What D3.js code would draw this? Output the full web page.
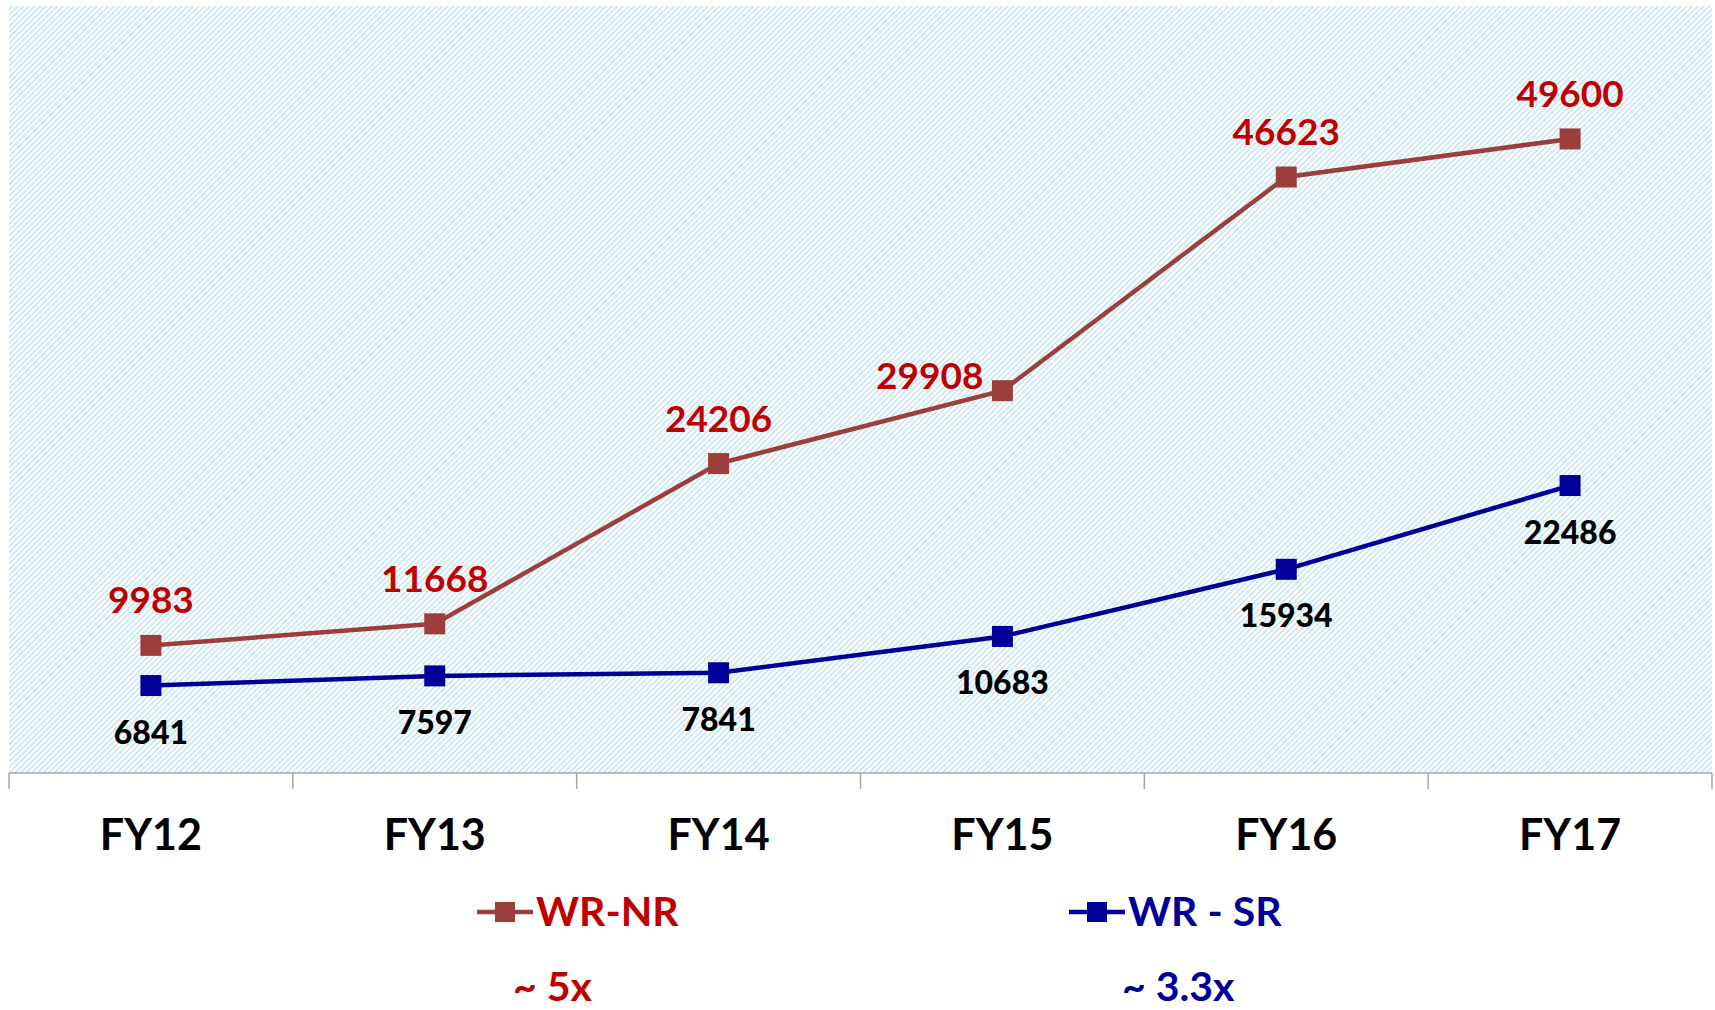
<!DOCTYPE html>
<html>
<head>
<meta charset="utf-8">
<script src="https://cdn.jsdelivr.net/npm/d3@7"></script>
<style>
  body { margin: 0; background: #fff; }
  svg text { font-family: Lato, "Open Sans", sans-serif; font-weight: bold; }
</style>
</head>
<body>
<svg id="chart" width="1715" height="1010"></svg>
<script>
// Chart data
const years = ['FY12', 'FY13', 'FY14', 'FY15', 'FY16', 'FY17'];
const wrNr = [9983, 11668, 24206, 29908, 46623, 49600];
const wrSr = [6841, 7597, 7841, 10683, 15934, 22486];
const seriesNames = ['WR-NR', 'WR - SR'];
const growthLabels = ['~ 5x', '~ 3.3x'];

const svg = d3.select('#chart');

// Plot area in page pixels
const plot = { left: 9, right: 1712, top: 6, bottom: 773 };

const red = '#9c3f3c';
const redText = '#c00000';
const blue = '#000099';

// Hatched background pattern
const defs = svg.append('defs');
const pat = defs.append('pattern')
  .attr('id', 'hatch')
  .attr('patternUnits', 'userSpaceOnUse')
  .attr('width', 4)
  .attr('height', 4)
  .attr('patternTransform', 'rotate(45)');
pat.append('rect').attr('width', 4).attr('height', 4).attr('fill', '#ffffff');
pat.append('rect').attr('width', 2).attr('height', 4).attr('fill', '#d0e9f1');

svg.append('rect')
  .attr('x', plot.left)
  .attr('y', plot.top)
  .attr('width', plot.right - plot.left)
  .attr('height', plot.bottom - plot.top)
  .attr('fill', 'url(#hatch)');

// Scales
const x = d3.scaleBand().domain(years).range([plot.left, plot.right]);
const y = d3.scaleLinear().domain([0, 60000]).range([plot.bottom, plot.top]);
const cx = (d) => x(d) + x.bandwidth() / 2;

// X axis: labels only, ticks drawn at category boundaries
const xAxis = d3.axisBottom(x).tickSize(0).tickPadding(0);
const axisG = svg.append('g')
  .attr('transform', `translate(0,${plot.bottom})`)
  .call(xAxis);
axisG.select('.domain').remove();
axisG.selectAll('.tick text')
  .attr('y', 77)
  .attr('dy', 0)
  .attr('fill', '#000')
  .style('font-size', '43px');

svg.append('line')
  .attr('x1', plot.left).attr('x2', plot.right)
  .attr('y1', plot.bottom).attr('y2', plot.bottom)
  .attr('stroke', '#a6a6a6').attr('stroke-width', 1.5);

const bounds = years.map((d) => x(d)).concat([plot.right]);
svg.selectAll('.boundTick')
  .data(bounds)
  .join('line')
  .attr('class', 'boundTick')
  .attr('x1', (d) => d).attr('x2', (d) => d)
  .attr('y1', plot.bottom).attr('y2', plot.bottom + 16)
  .attr('stroke', '#a6a6a6').attr('stroke-width', 1.5);

// Lines and markers
const series = [
  { name: seriesNames[0], values: wrNr, color: red },
  { name: seriesNames[1], values: wrSr, color: blue },
];

const line = d3.line()
  .x((d, i) => cx(years[i]))
  .y((d) => y(d));

series.forEach((s) => {
  svg.append('path')
    .datum(s.values)
    .attr('fill', 'none')
    .attr('stroke', s.color)
    .attr('stroke-width', 4.5)
    .attr('d', line);

  svg.selectAll(null)
    .data(s.values)
    .join('rect')
    .attr('x', (d, i) => cx(years[i]) - 10.5)
    .attr('y', (d) => y(d) - 10.5)
    .attr('width', 21)
    .attr('height', 21)
    .attr('fill', s.color);
});

// Data labels: WR-NR above (FY15 to the left), WR-SR below
svg.selectAll('.lblNr')
  .data(wrNr)
  .join('text')
  .attr('class', 'lblNr')
  .attr('x', (d, i) => (i === 3 ? cx(years[i]) - 19 : cx(years[i])))
  .attr('y', (d, i) => (i === 3 ? y(d) - 2 : y(d) - 32))
  .attr('text-anchor', (d, i) => (i === 3 ? 'end' : 'middle'))
  .attr('fill', redText)
  .style('font-size', '37px')
  .text((d) => d);

svg.selectAll('.lblSr')
  .data(wrSr)
  .join('text')
  .attr('class', 'lblSr')
  .attr('x', (d, i) => cx(years[i]))
  .attr('y', (d) => y(d) + 58)
  .attr('text-anchor', 'middle')
  .attr('fill', '#000')
  .style('font-size', '32px')
  .style('font-weight', 900)
  .text((d) => d);

// Legend
const legendItems = [
  { name: seriesNames[0], color: red, text: redText, x: 477, growth: growthLabels[0], gx: 513 },
  { name: seriesNames[1], color: blue, text: blue, x: 1069, growth: growthLabels[1], gx: 1122 },
];

legendItems.forEach((l) => {
  const g = svg.append('g');
  g.append('line')
    .attr('x1', l.x).attr('x2', l.x + 56)
    .attr('y1', 912).attr('y2', 912)
    .attr('stroke', l.color).attr('stroke-width', 4.5);
  g.append('rect')
    .attr('x', l.x + 18).attr('y', 902)
    .attr('width', 20).attr('height', 20)
    .attr('fill', l.color);
  g.append('text')
    .attr('x', l.x + 59).attr('y', 926)
    .attr('fill', l.text)
    .style('font-size', '41px')
    .text(l.name);
  g.append('text')
    .attr('x', l.gx).attr('y', 1001)
    .attr('fill', l.text)
    .style('font-size', '41px')
    .text(l.growth);
});
</script>
</body>
</html>
